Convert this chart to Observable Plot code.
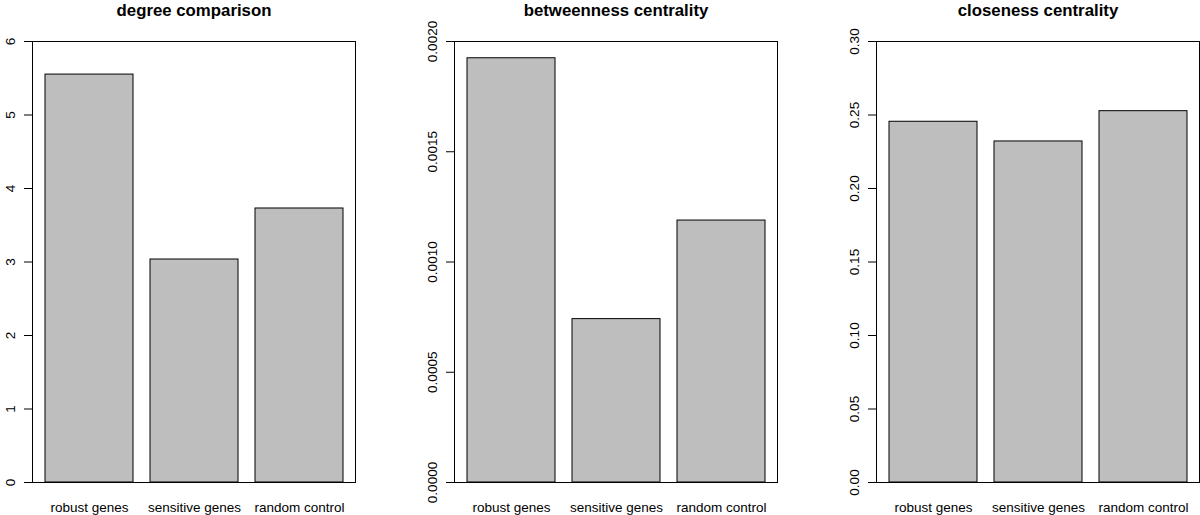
<!DOCTYPE html>
<html>
<head>
<meta charset="utf-8">
<script src="https://cdn.jsdelivr.net/npm/d3@7"></script>
<script src="https://cdn.jsdelivr.net/npm/@observablehq/plot@0.6"></script>
<style>
  html, body { margin: 0; padding: 0; background: #fff; }
  #row { display: flex; flex-direction: row; width: 1200px; height: 515px; }
  #row > svg { display: block; flex: none; }
</style>
</head>
<body>
<div id="row"></div>
<script>
const categories = ["robust genes", "sensitive genes", "random control"];

const degreeValues = [5.55, 3.034, 3.728];
const betweennessValues = [0.001924, 0.000741, 0.001188];
const closenessValues = [0.2454, 0.232, 0.2526];

const degreeTicks = [0, 1, 2, 3, 4, 5, 6];
const degreeTickLabels = ["0", "1", "2", "3", "4", "5", "6"];
const betweennessTicks = [0, 0.0005, 0.001, 0.0015, 0.002];
const betweennessTickLabels = ["0.0000", "0.0005", "0.0010", "0.0015", "0.0020"];
const closenessTicks = [0, 0.05, 0.1, 0.15, 0.2, 0.25, 0.3];
const closenessTickLabels = ["0.00", "0.05", "0.10", "0.15", "0.20", "0.25", "0.30"];

const titles = ["degree comparison", "betweenness centrality", "closeness centrality"];

const FONT = "'Liberation Sans', Arial, Helvetica, sans-serif";

function panel({title, values, ticks, tickLabels, marginLeft, marginRight}) {
  const data = categories.map((c, i) => ({category: c, value: values[i]}));
  const tickData = ticks.map((t, i) => ({t, label: tickLabels[i]}));
  const yMax = ticks[ticks.length - 1];
  return Plot.plot({
    width: 400,
    height: 515,
    marginTop: 41,
    marginBottom: 33,
    marginLeft,
    marginRight,
    style: {fontFamily: FONT, background: "#fff", color: "#000"},
    x: {domain: categories, paddingInner: 1 / 6, paddingOuter: 0.1133, axis: null},
    y: {domain: [0, yMax], axis: null},
    marks: [
      Plot.barY(data, {x: "category", y: "value", fill: "#bebebe", stroke: "#000", strokeWidth: 1}),
      Plot.frame({stroke: "#000", strokeWidth: 1}),
      Plot.axisY({ticks, tickSize: 8, tickFormat: () => "", stroke: "#000", strokeWidth: 1}),
      Plot.text(tickData, {
        y: "t", text: "label", frameAnchor: "left", dx: -22,
        rotate: -90, textAnchor: "middle", lineAnchor: "middle",
        fontSize: 13.5, fill: "#000"
      }),
      Plot.text(data, {
        x: "category", text: "category", frameAnchor: "bottom", dy: 25,
        textAnchor: "middle", lineAnchor: "middle", fontSize: 13.5, fill: "#000"
      }),
      Plot.text([title], {
        text: d => d, frameAnchor: "top", dy: -31,
        textAnchor: "middle", lineAnchor: "middle",
        fontSize: 16.8, fontWeight: "bold", fill: "#000"
      })
    ]
  });
}

const row = document.getElementById("row");
row.appendChild(panel({title: titles[0], values: degreeValues, ticks: degreeTicks, tickLabels: degreeTickLabels, marginLeft: 32, marginRight: 45}));
row.appendChild(panel({title: titles[1], values: betweennessValues, ticks: betweennessTicks, tickLabels: betweennessTickLabels, marginLeft: 54, marginRight: 23}));
row.appendChild(panel({title: titles[2], values: closenessValues, ticks: closenessTicks, tickLabels: closenessTickLabels, marginLeft: 76, marginRight: 1}));
</script>
</body>
</html>
